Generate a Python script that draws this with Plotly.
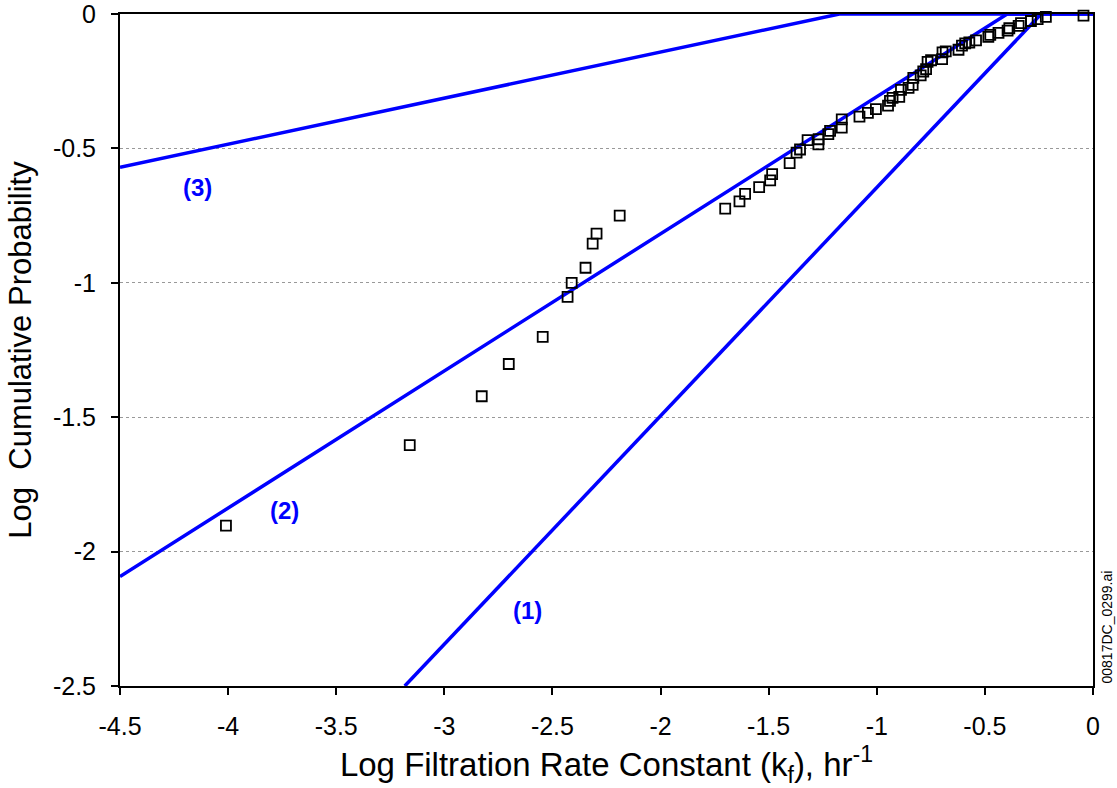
import plotly.graph_objects as go

# Observed filtration rate constants and cumulative probabilities (log10 scale)
log_kf = [
    -4.010, -3.160, -2.827, -2.702, -2.545, -2.430, -2.411, -2.347, -2.314, -2.296,
    -2.189, -1.701, -1.635, -1.609, -1.544, -1.493, -1.484, -1.403, -1.371, -1.355,
    -1.320, -1.270, -1.269, -1.224, -1.216, -1.162, -1.162, -1.080, -1.041, -1.004,
    -0.948, -0.939, -0.927, -0.896, -0.888, -0.853, -0.834, -0.831, -0.797, -0.785,
    -0.772, -0.765, -0.749, -0.698, -0.696, -0.681, -0.622, -0.606, -0.591, -0.572,
    -0.541, -0.484, -0.475, -0.437, -0.395, -0.387, -0.344, -0.333, -0.287, -0.256,
    -0.218, -0.044,
]
log_prob = [
    -1.903, -1.604, -1.422, -1.302, -1.201, -1.052, -1.000, -0.944, -0.854, -0.817,
    -0.750, -0.724, -0.697, -0.669, -0.644, -0.619, -0.596, -0.555, -0.516, -0.504,
    -0.469, -0.485, -0.466, -0.447, -0.435, -0.423, -0.392, -0.382, -0.368, -0.354,
    -0.341, -0.323, -0.312, -0.308, -0.282, -0.275, -0.264, -0.238, -0.228, -0.214,
    -0.205, -0.178, -0.172, -0.168, -0.143, -0.139, -0.133, -0.118, -0.109, -0.106,
    -0.098, -0.085, -0.078, -0.070, -0.062, -0.053, -0.044, -0.034, -0.026, -0.019,
    -0.011, -0.006,
]

# Reference distribution lines (1), (2), (3)
line1_x = [-3.183, -0.24]
line1_y = [-2.5, 0.0]
line2_x = [-4.5, -0.397, 0.0]
line2_y = [-2.093, 0.0, 0.0]
line3_x = [-4.5, -1.173, 0.0]
line3_y = [-0.57, 0.0, 0.0]

line_labels = ["(1)", "(2)", "(3)"]
label_x = [-2.615, -3.740, -4.140]
label_y = [-2.220, -1.847, -0.6455]

x_ticks = [-4.5, -4, -3.5, -3, -2.5, -2, -1.5, -1, -0.5, 0]
y_ticks = [-2.5, -2, -1.5, -1, -0.5, 0]

BLUE = "#0000FF"
FONT = "Liberation Sans, Arial, sans-serif"

fig = go.Figure()

for lx, ly in [(line3_x, line3_y), (line2_x, line2_y), (line1_x, line1_y)]:
    fig.add_trace(go.Scatter(
        x=lx, y=ly, mode="lines",
        line=dict(color=BLUE, width=3.5),
        hoverinfo="skip", showlegend=False,
    ))

fig.add_trace(go.Scatter(
    x=log_kf, y=log_prob, mode="markers",
    marker=dict(symbol="square-open", size=10, color="black",
                line=dict(color="black", width=1.8)),
    cliponaxis=False, showlegend=False,
))

for txt, tx, ty in zip(line_labels, label_x, label_y):
    fig.add_annotation(
        x=tx, y=ty, text=f"<b>{txt}</b>", showarrow=False,
        font=dict(family=FONT, size=24, color=BLUE),
        xanchor="center", yanchor="middle",
    )

fig.add_annotation(
    xref="paper", yref="paper", x=1.0, y=0.0,
    xshift=13, text="00817DC_0299.ai", showarrow=False, textangle=-90,
    font=dict(family=FONT, size=14, color="black"),
    xanchor="center", yanchor="bottom",
)

fig.update_layout(
    width=1117, height=788,
    margin=dict(l=120, r=24, t=14, b=102),
    paper_bgcolor="white", plot_bgcolor="white",
    font=dict(family=FONT, color="black"),
)

fig.update_xaxes(
    range=[-4.5, 0], tickvals=x_ticks, ticktext=[f"{v:g}" for v in x_ticks],
    showgrid=False, zeroline=False,
    showline=True, linecolor="black", linewidth=2, mirror=True,
    ticks="outside", ticklen=7, tickwidth=1.5, tickcolor="black",
    ticklabelstandoff=10, ticklabeloverflow="allow",
    tickfont=dict(family=FONT, size=25, color="black"),
    title=dict(text="Log Filtration Rate Constant (k<sub>f</sub>), hr<sup>-1</sup>",
               font=dict(family=FONT, size=33, color="black"), standoff=18),
    layer="below traces", automargin=False,
)

fig.update_yaxes(
    range=[-2.5, 0], tickvals=y_ticks, ticktext=[f"{v:g}" for v in y_ticks],
    showgrid=True, gridcolor="#999999", griddash="3px,3px", gridwidth=1,
    zeroline=False,
    showline=True, linecolor="black", linewidth=2, mirror=True,
    ticks="outside", ticklen=7, tickwidth=1.5, tickcolor="black",
    ticklabelstandoff=10, ticklabeloverflow="allow",
    tickfont=dict(family=FONT, size=25, color="black"),
    title=dict(text="Log  Cumulative Probability",
               font=dict(family=FONT, size=31, color="black"), standoff=12),
    layer="below traces", automargin=False,
)

fig.write_html("out.html")
